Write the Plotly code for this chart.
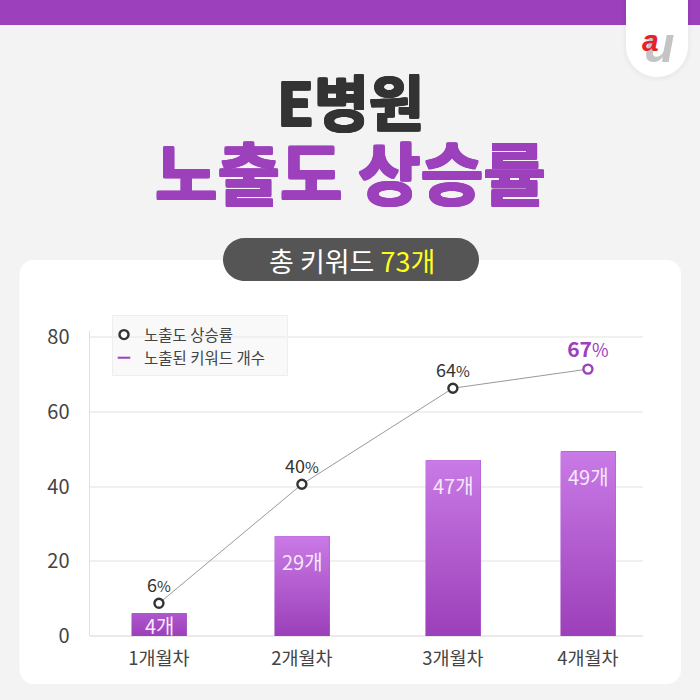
import plotly.graph_objects as go

months = ["1개월차", "2개월차", "3개월차", "4개월차"]
month_pos = [1.0, 1.994, 3.044, 3.983]
keyword_bar = [6.1, 26.7, 47.0, 49.3]
bar_labels = ["4개", "29개", "47개", "49개"]
rate_line = [8.75, 40.6, 66.3, 71.4]
rate_labels = ["6", "40", "64", "67"]
y_ticks = [0, 20, 40, 60, 80]
bar_top_colors = ["#AD58CC", "#C97AE6", "#C97AE6", "#C97AE6"]

FONT = "Noto Sans CJK KR"
PURPLE = "#9C40BC"
BAR_W = 0.382
W = H = 700


def px(x):
    return x / W


def py(y):
    return 1 - y / H


def rounded(x0, y0, x1, y1, r, top=True):
    k = r * 0.45
    X0, X1, Y0, Y1 = px(x0), px(x1), py(y0), py(y1)
    pts = []
    if top:
        pts.append(f"M{px(x0+r)},{Y0} L{px(x1-r)},{Y0}")
        pts.append(f"C{px(x1-k)},{Y0} {X1},{py(y0+k)} {X1},{py(y0+r)}")
    else:
        pts.append(f"M{X0},{Y0} L{X1},{Y0}")
    pts.append(f"L{X1},{py(y1-r)}")
    pts.append(f"C{X1},{py(y1-k)} {px(x1-k)},{Y1} {px(x1-r)},{Y1}")
    pts.append(f"L{px(x0+r)},{Y1}")
    pts.append(f"C{px(x0+k)},{Y1} {X0},{py(y1-k)} {X0},{py(y1-r)}")
    if top:
        pts.append(f"L{X0},{py(y0+r)}")
        pts.append(f"C{X0},{py(y0+k)} {px(x0+k)},{Y0} {px(x0+r)},{Y0}")
    pts.append("Z")
    return " ".join(pts)


def path_shape(path, fill, layer="below", opacity=1):
    return dict(type="path", path=path, xref="paper", yref="paper", fillcolor=fill,
                line=dict(width=0), layer=layer, opacity=opacity)


def paper_rect(x0, y0, x1, y1, fill, line=None):
    return dict(type="rect", xref="paper", yref="paper", x0=px(x0), x1=px(x1), y0=py(y0), y1=py(y1),
                fillcolor=fill, line=dict(width=1 if line else 0, color=line or fill), layer="below")


def label(x, y, text, size, color, weight=400, family=FONT, shadow=None):
    f = dict(family=family, size=size, color=color, weight=weight)
    if shadow:
        f["shadow"] = shadow
    return dict(xref="paper", yref="paper", x=px(x), y=py(y), text=text, showarrow=False,
                xanchor="center", yanchor="middle", font=f)


def heavy(c, d=1):
    return ", ".join(f"{a}px {b}px 0 {c}" for a, b in [(d, 0), (-d, 0), (0, d), (0, -d), (d, d), (-d, -d), (d, -d), (-d, d)])


fig = go.Figure()

fig.add_trace(go.Bar(x=month_pos, y=keyword_bar, width=BAR_W, marker=dict(color="#B45CD2", line=dict(width=0)),
                     showlegend=False, hoverinfo="skip"))

for p, v, c in zip(month_pos, keyword_bar, bar_top_colors):
    a, b = p - BAR_W / 2, p + BAR_W / 2
    fig.add_trace(go.Scatter(
        x=[a, b, b, a, a], y=[0, 0, v, v, 0], mode="lines", line=dict(width=0), fill="toself",
        fillgradient=dict(type="vertical", start=0, stop=v,
                          colorscale=[[0, "#9C3FB9"], [1, c]]),
        showlegend=False, hoverinfo="skip"))

fig.add_trace(go.Scatter(x=month_pos, y=rate_line, mode="lines", line=dict(color="#999999", width=1),
                         showlegend=False, hoverinfo="skip"))

txt = [f"{v}<span style='font-size:15px'>%</span>" for v in rate_labels[:3]]
txt.append(f"<b>{rate_labels[3]}</b><span style='font-size:18px'>%</span>")
fig.add_trace(go.Scatter(
    x=month_pos, y=rate_line, mode="markers+text", name="노출도 상승률",
    text=txt, textposition="top center",
    textfont=dict(family=FONT, size=[18, 18, 18, 21], color=["#333333"] * 3 + [PURPLE]),
    marker=dict(symbol="circle", size=9, color="#ffffff",
                line=dict(width=2.4, color=["#333333"] * 3 + [PURPLE])),
    hoverinfo="skip"))

fig.add_trace(go.Scatter(x=[None], y=[None], mode="markers", name="노출된 키워드 개수",
                         marker=dict(symbol="line-ew", size=9, color=PURPLE, line=dict(width=2, color=PURPLE)),
                         hoverinfo="skip"))

shapes = [
    paper_rect(0, 0, 700, 25, PURPLE),
    path_shape(rounded(19.5, 260, 681, 684, 14), "#ffffff"),
    path_shape(rounded(622, 0, 692, 82, 34, top=False), "#000000", opacity=0.012),
    path_shape(rounded(624, 0, 690, 80, 33, top=False), "#000000", opacity=0.015),
    path_shape(rounded(626, 0, 688, 77, 31, top=False), "#ffffff"),
    paper_rect(112.5, 315.5, 287.5, 375.5, "#f9f9f9", "#eeeeee"),
    path_shape(rounded(223, 238, 479, 281, 21.5), "#555555", layer="above"),
]

annotations = [
    label(659, 45.5, "<b><i>u</i></b>", 50, "#C4C4C4", family="Liberation Sans"),
    label(650, 40, "<b><i>a</i></b>", 30, "#E8202A", family="Liberation Sans"),
    label(350, 99, "E병원", 60, "#333333", weight=700, shadow=heavy("#333333")),
    label(350, 171, "노출도 상승률", 68, PURPLE, weight=700, shadow=heavy(PURPLE)),
    label(352, 260, "총 키워드 <span style='color:#FFFF1A'>73개</span>", 27, "#ffffff"),
]
for p, v, t in zip(month_pos, keyword_bar, bar_labels):
    annotations.append(dict(x=p, y=v, xref="x", yref="y", text=t, showarrow=False, yanchor="middle",
                            yshift=-12 if v < 10 else -25, xshift=1,
                            font=dict(family=FONT, size=20, color="#F6E8FB")))

fig.update_layout(
    width=W, height=H, margin=dict(l=0, r=0, t=0, b=0, autoexpand=False),
    paper_bgcolor="#F3F3F3", plot_bgcolor="rgba(0,0,0,0)",
    font=dict(family=FONT, color="#444444"),
    shapes=shapes, annotations=annotations, bargap=0,
    legend=dict(x=px(104), y=py(318), xanchor="left", yanchor="top", bgcolor="rgba(0,0,0,0)",
                borderwidth=0, font=dict(family=FONT, size=15.5, color="#444444"), itemwidth=30,
                tracegroupgap=0),
    xaxis=dict(domain=[px(89.5), px(643)], range=[0.517, 4.366], tickmode="array", tickvals=month_pos,
               ticktext=months, showgrid=False, zeroline=False, showline=False, ticks="",
               automargin=False, ticklabelstandoff=9,
               tickfont=dict(family=FONT, size=18.5, color="#444444")),
    yaxis=dict(domain=[py(636), py(331.4)], range=[0, 81.5], tickmode="array", tickvals=y_ticks,
               gridcolor="#F0F0F0", gridwidth=2, zeroline=True, zerolinecolor="#EAEAEA", zerolinewidth=2,
               showline=True, linecolor="#E0E0E0", linewidth=1, ticks="", ticklabelstandoff=15, automargin=False,
               tickfont=dict(family=FONT, size=20, color="#444444")),
)

fig.write_html("out.html", config=dict(displayModeBar=False),
               post_script="document.body.style.margin='0';")
